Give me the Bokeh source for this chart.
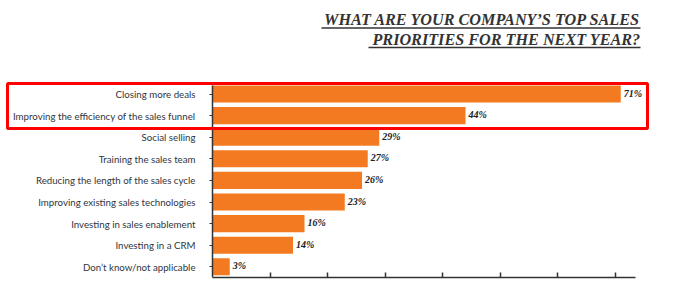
from bokeh.plotting import figure
from bokeh.models import (Range1d, LinearAxis, FixedTicker, BoxAnnotation, ColumnDataSource)
from bokeh.core.properties import value
from bokeh.embed import file_html
from bokeh.resources import INLINE

categories = [
    "Closing more deals",
    "Improving the efficiency of the sales funnel",
    "Social selling",
    "Training the sales team",
    "Reducing the length of the sales cycle",
    "Improving existing sales technologies",
    "Investing in sales enablement",
    "Investing in a CRM",
    "Don\u2019t know/not applicable",
]
values = [71, 44, 29, 27, 26, 23, 16, 14, 3]
value_labels = ["71%", "44%", "29%", "27%", "26%", "23%", "16%", "14%", "3%"]
x_ticks = [10, 20, 30, 40, 50, 60, 70]
title_lines = ["WHAT ARE YOUR COMPANY\u2019S TOP SALES", "PRIORITIES FOR THE NEXT YEAR?"]

W, H = 684, 296
BOTTOM = 277          # pixel row of the x axis
X0 = 212              # pixel column of value 0
PX_PER = 5.75         # pixels per percent
BAND = 21.6           # pixels per category
FIRST = 93.5          # pixel row of first category centre

def xd(px):
    return (px - X0) / PX_PER

def yd(py):
    return (py - FIRST) / BAND

idx = list(range(len(categories)))

p = figure(width=W, height=H, output_backend="svg", toolbar_location=None,
           x_range=Range1d(xd(0), xd(W)), y_range=Range1d(yd(BOTTOM), yd(0)),
           y_axis_location=None, min_border=0, min_border_bottom=H - BOTTOM,
           background_fill_color="white", border_fill_color="white",
           outline_line_color=None)
p.grid.visible = False

src = ColumnDataSource(dict(y=idx, v=values, lab=value_labels))
p.hbar(y="y", left=0, right="v", height=0.79, source=src,
       fill_color="#F47A22", line_color=None)

p.text(x="v", y="y", text="lab", source=src, x_offset=3, y_offset=-1,
       text_font=value("Liberation Serif"), text_font_style="bold italic",
       text_font_size="10px", text_baseline="middle", text_color="#222222")

# x axis
xa = p.xaxis[0]
xa.bounds = (0, xd(635))
xa.ticker = FixedTicker(ticks=x_ticks)
xa.major_label_overrides = {t: "" for t in x_ticks}
xa.major_tick_in = 5
xa.major_tick_out = 0
xa.minor_tick_line_color = None
xa.axis_line_color = "#333333"
xa.axis_line_width = 1.5
xa.major_tick_line_color = "#333333"
xa.major_tick_line_width = 1.5

# y axis fixed at 0
ya = LinearAxis(fixed_location=0, ticker=FixedTicker(ticks=idx),
                major_label_overrides={i: c for i, c in zip(idx, categories)},
                bounds=(yd(85), yd(BOTTOM)))
ya.major_tick_in = 0
ya.major_tick_out = 3
ya.minor_tick_line_color = None
ya.major_label_standoff = 14
ya.major_label_text_font = "Lato"
ya.major_label_text_font_size = "9.7px"
ya.major_label_text_color = "#2f3540"
ya.axis_line_color = "#333333"
ya.axis_line_width = 1.5
ya.major_tick_line_color = "#333333"
p.add_layout(ya, "left")

# highlight box
p.add_layout(BoxAnnotation(left=xd(7), right=xd(647), top=yd(83), bottom=yd(128),
                           fill_alpha=0, line_color="#FF0000", line_alpha=1.0,
                           line_width=3))

# title
tsrc = ColumnDataSource(dict(x=[xd(640), xd(640)], y=[yd(19.5), yd(39)], t=title_lines))
p.text(x="x", y="y", text="t", source=tsrc, text_align="right",
       text_baseline="alphabetic", text_font=value("Liberation Serif"),
       text_font_style="bold italic", text_font_size="16.2px", text_color="#333333")
p.segment(x0=[xd(321), xd(368)], y0=[yd(27.5), yd(47)],
          x1=[xd(640), xd(640)], y1=[yd(27.5), yd(47)],
          line_color="#333333", line_width=1.3)

open("out.html", "w").write(file_html(p, INLINE))
